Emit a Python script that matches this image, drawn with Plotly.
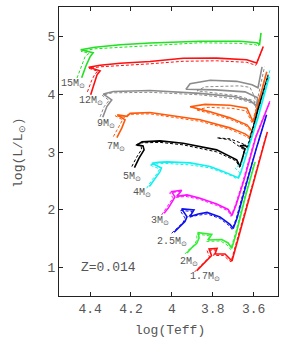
import plotly.graph_objects as go

# ---------------- data: (log Teff, log L) along each track ----------------
# solid = one model set, dashed = companion model set
m15_x = [4.441, 4.420, 4.400, 4.385, 4.446, 4.376, 4.253, 4.107, 3.862, 3.667, 3.584, 3.571, 3.564]
m15_y = [4.285, 4.493, 4.648, 4.718, 4.770, 4.813, 4.856, 4.886, 4.917, 4.917, 4.891, 4.865, 5.064]
m15d_x = [4.464, 4.441, 4.424, 4.405, 4.444, 4.376, 4.107, 3.862, 3.667, 3.589, 3.576, 3.571]
m15d_y = [4.280, 4.510, 4.654, 4.709, 4.744, 4.787, 4.848, 4.891, 4.882, 4.856, 4.830, 4.943]

m12_x = [4.397, 4.380, 4.366, 4.351, 4.407, 4.351, 4.253, 4.107, 3.945, 3.781, 3.634, 3.585, 3.553]
m12_y = [3.990, 4.198, 4.337, 4.406, 4.467, 4.501, 4.536, 4.567, 4.623, 4.626, 4.597, 4.539, 4.827]
m12d_x = [4.413, 4.393, 4.376, 4.361, 4.405, 4.351, 4.107, 3.945, 3.781, 3.634, 3.589, 3.559]
m12d_y = [4.042, 4.233, 4.354, 4.397, 4.449, 4.475, 4.527, 4.571, 4.579, 4.553, 4.501, 4.770]

m9_x = [4.338, 4.318, 4.294, 4.335, 4.286, 4.107, 3.862, 3.691, 3.618, 3.584, 3.581, 3.642,
        3.789, 3.931, 3.911, 3.813, 3.683, 3.608, 3.579, 3.559]
m9_y = [3.604, 3.788, 3.904, 4.003, 4.048, 4.065, 4.016, 3.956, 3.887, 3.800, 3.939, 4.042,
        4.077, 4.086, 4.181, 4.242, 4.224, 4.164, 4.112, 4.475]
m9d_x = [4.351, 4.332, 4.307, 4.341, 4.292, 4.107, 3.862, 3.667, 3.598, 3.589, 3.598, 3.677,
         3.877, 3.838, 3.667, 3.618, 3.598, 3.586, 3.569, 3.547]
m9d_y = [3.610, 3.783, 3.895, 3.982, 4.025, 4.034, 3.990, 3.913, 3.835, 3.765, 3.887, 3.973,
         4.060, 4.129, 4.146, 4.120, 3.973, 3.835, 4.112, 4.475]

m7_x = [4.269, 4.245, 4.229, 4.267, 4.219, 4.204, 4.107, 3.862, 3.716, 3.642, 3.618, 3.608,
        3.633, 3.716, 3.813, 3.911, 3.838, 3.716, 3.633, 3.603, 3.579, 3.559, 3.536]
m7_y = [3.251, 3.414, 3.558, 3.644, 3.618, 3.670, 3.684, 3.558, 3.419, 3.315, 3.255, 3.367,
        3.471, 3.592, 3.696, 3.783, 3.826, 3.809, 3.757, 3.523, 3.817, 4.077, 4.389]
m7d_x = [4.286, 4.261, 4.241, 4.278, 4.229, 4.214, 4.107, 3.862, 3.716, 3.647, 3.623, 3.613,
         3.637, 3.716, 3.804, 3.882, 3.823, 3.706, 3.637, 3.608, 3.584, 3.562, 3.542]
m7d_y = [3.268, 3.428, 3.558, 3.630, 3.601, 3.653, 3.661, 3.532, 3.393, 3.289, 3.237, 3.350,
         3.454, 3.566, 3.661, 3.731, 3.774, 3.757, 3.713, 3.506, 3.783, 4.060, 4.319]

m5_x = [4.183, 4.160, 4.136, 4.141, 4.170, 4.146, 4.058, 3.945, 3.781, 3.683, 3.667, 3.652,
        3.642, 3.667, 3.642, 3.628, 3.618, 3.579, 3.528]
m5_y = [2.732, 2.900, 3.038, 3.107, 3.125, 3.177, 3.194, 3.154, 3.038, 2.865, 2.752, 2.934,
        3.055, 3.107, 3.116, 3.073, 3.211, 3.731, 4.337]
m5d_x = [4.196, 4.173, 4.148, 4.151, 4.180, 4.156, 4.058, 3.945, 3.781, 3.686, 3.669, 3.652,
         3.647, 3.716, 3.779, 3.716, 3.652, 3.633, 3.623, 3.584, 3.532]
m5d_y = [2.749, 2.908, 3.047, 3.107, 3.116, 3.159, 3.168, 3.125, 3.003, 2.848, 2.735, 2.917,
         3.038, 3.211, 3.246, 3.229, 3.142, 3.090, 3.177, 3.679, 4.285]

m4_x = [4.110, 4.082, 4.058, 4.051, 4.098, 4.068, 4.024, 3.911, 3.813, 3.750, 3.701, 3.674,
        3.662, 3.652, 3.628, 3.579, 3.524]
m4_y = [2.403, 2.548, 2.662, 2.726, 2.808, 2.822, 2.830, 2.813, 2.752, 2.666, 2.597, 2.553,
        2.657, 2.778, 3.038, 3.592, 4.302]
m4d_x = [4.123, 4.097, 4.070, 4.060, 4.109, 4.077, 4.029, 3.911, 3.813, 3.750, 3.706, 3.681,
         3.667, 3.691, 3.677, 3.657, 3.628, 3.584, 3.520]
m4d_y = [2.375, 2.519, 2.640, 2.709, 2.778, 2.796, 2.804, 2.778, 2.726, 2.640, 2.588, 2.536,
         2.640, 2.726, 2.761, 2.813, 3.090, 3.592, 4.423]

m3_x = [4.038, 4.017, 3.999, 3.985, 4.001, 3.952, 3.975, 3.926, 3.862, 3.781, 3.725, 3.706,
        3.686, 3.647, 3.589, 3.523]
m3_y = [1.942, 2.034, 2.138, 2.224, 2.316, 2.340, 2.233, 2.259, 2.202, 2.103, 2.008, 1.904,
        2.086, 2.519, 3.263, 3.852]
m3d_x = [4.050, 4.029, 4.009, 3.994, 4.011, 3.960, 3.982, 3.931, 3.862, 3.781, 3.725, 3.711,
         3.691, 3.652, 3.593, 3.518]
m3d_y = [1.913, 2.017, 2.120, 2.207, 2.294, 2.319, 2.216, 2.233, 2.181, 2.077, 1.982, 1.887,
         2.068, 2.501, 3.246, 3.904]

m25_x = [3.989, 3.960, 3.936, 3.926, 3.952, 3.892, 3.911, 3.871, 3.828, 3.765, 3.716, 3.700,
         3.681, 3.637, 3.589, 3.537]
m25_y = [1.613, 1.710, 1.800, 1.878, 2.017, 1.999, 1.887, 1.930, 1.956, 1.878, 1.748, 1.679,
         1.861, 2.432, 3.038, 3.644]
m25d_x = [4.001, 3.972, 3.945, 3.936, 3.960, 3.901, 3.919, 3.877, 3.828, 3.765, 3.718, 3.706,
          3.686, 3.642, 3.593, 3.542]
m25d_y = [1.596, 1.696, 1.783, 1.861, 1.990, 1.973, 1.869, 1.904, 1.930, 1.852, 1.722, 1.662,
          1.843, 2.415, 3.003, 3.592]

m2_x = [3.926, 3.904, 3.878, 3.867, 3.871, 3.805, 3.823, 3.756, 3.725, 3.707, 3.686, 3.642, 3.593]
m2_y = [1.255, 1.341, 1.422, 1.514, 1.606, 1.575, 1.480, 1.488, 1.428, 1.336, 1.584, 2.207, 2.830]
m2d_x = [3.936, 3.914, 3.889, 3.877, 3.879, 3.813, 3.831, 3.762, 3.730, 3.713, 3.691, 3.647, 3.598]
m2d_y = [1.237, 1.324, 1.402, 1.488, 1.584, 1.549, 1.454, 1.462, 1.393, 1.315, 1.566, 2.190, 2.796]

m17_x = [3.878, 3.838, 3.806, 3.818, 3.779, 3.789, 3.740, 3.723, 3.706, 3.667, 3.618, 3.569, 3.533]
m17_y = [0.948, 1.099, 1.211, 1.324, 1.333, 1.237, 1.237, 1.177, 1.116, 1.618, 2.259, 2.900, 3.350]
m17d_x = [3.889, 3.848, 3.816, 3.828, 3.787, 3.796, 3.747, 3.728, 3.711, 3.672, 3.623, 3.574, 3.540]
m17d_y = [0.926, 1.073, 1.185, 1.298, 1.307, 1.211, 1.211, 1.151, 1.099, 1.601, 2.242, 2.865, 3.281]

# mass labels and their positions (log Teff, log L)
label_text = ["15M", "12M", "9M", "7M", "5M", "4M", "3M", "2.5M", "2M", "1.7M"]
label_x = [4.483, 4.395, 4.322, 4.273, 4.195, 4.146, 4.058, 3.999, 3.916, 3.838]
label_y = [4.181, 3.887, 3.488, 3.090, 2.571, 2.294, 1.809, 1.445, 1.099, 0.839]

x_ticks = [4.4, 4.2, 4.0, 3.8, 3.6]
x_ticklabels = ["4.4", "4.2", "4", "3.8", "3.6"]
y_ticks = [1, 2, 3, 4, 5]

# ---------------- build figure ----------------
tracks = [
    (m15_x, m15_y, m15d_x, m15d_y, "#22e022"),
    (m12_x, m12_y, m12d_x, m12d_y, "#ff1010"),
    (m9_x, m9_y, m9d_x, m9d_y, "#8c8c8c"),
    (m7_x, m7_y, m7d_x, m7d_y, "#ff5a0a"),
    (m5_x, m5_y, m5d_x, m5d_y, "#000000"),
    (m4_x, m4_y, m4d_x, m4d_y, "#10f0f0"),
    (m3_x, m3_y, m3d_x, m3d_y, "#ff10ff"),
    (m25_x, m25_y, m25d_x, m25d_y, "#1010ee"),
    (m2_x, m2_y, m2d_x, m2d_y, "#30ee30"),
    (m17_x, m17_y, m17d_x, m17d_y, "#ff1010"),
]

fig = go.Figure()
for sx, sy, dx, dy, col in tracks:
    fig.add_trace(go.Scatter(x=dx, y=dy, mode="lines",
                             line=dict(color=col, width=1, dash="3px,2px"),
                             hoverinfo="skip"))
    fig.add_trace(go.Scatter(x=sx, y=sy, mode="lines",
                             line=dict(color=col, width=1.6),
                             hoverinfo="skip"))

mono = "Liberation Mono"
gray = "#555555"
for t, lx, ly in zip(label_text, label_x, label_y):
    fig.add_annotation(x=lx, y=ly, text=t + "<sub>⊙</sub>", showarrow=False,
                       font=dict(family=mono, size=10, color=gray),
                       xanchor="center", yanchor="middle")

fig.add_annotation(x=4.312, y=0.995, text="Z=0.014", showarrow=False,
                   font=dict(family=mono, size=13, color=gray),
                   xanchor="center", yanchor="middle")

# axis titles as paper-anchored annotations (precise placement)
fig.add_annotation(xref="paper", yref="paper", x=0.507, y=-0.121,
                   text="log(Teff)", showarrow=False,
                   font=dict(family=mono, size=13, color=gray),
                   xanchor="center", yanchor="middle")
fig.add_annotation(xref="paper", yref="paper", x=-0.178, y=0.495,
                   text="log(L/L<sub>⊙</sub>)", showarrow=False, textangle=-90,
                   font=dict(family=mono, size=13, color=gray),
                   xanchor="center", yanchor="middle")

fig.update_layout(
    width=299, height=346,
    margin=dict(l=59, r=21, t=7, b=50, autoexpand=False),
    paper_bgcolor="white", plot_bgcolor="white",
    showlegend=False,
    font=dict(family=mono, size=13, color=gray),
)
fig.update_xaxes(
    range=[4.552, 3.481], tickvals=x_ticks, ticktext=x_ticklabels,
    ticks="inside", ticklen=4, tickcolor="#222222",
    showline=True, linecolor="#222222", linewidth=1, mirror="ticks",
    showgrid=False, zeroline=False, automargin=False,
    tickfont=dict(family=mono, size=13, color=gray),
)
fig.update_yaxes(
    range=[0.51, 5.51], tickvals=y_ticks,
    ticks="inside", ticklen=4, tickcolor="#222222",
    showline=True, linecolor="#222222", linewidth=1, mirror="ticks",
    showgrid=False, zeroline=False, automargin=False,
    tickfont=dict(family=mono, size=13, color=gray),
)

fig.write_html("out.html",
               config={"displayModeBar": False},
               post_script="document.body.style.margin='0';document.body.style.overflow='hidden';")
